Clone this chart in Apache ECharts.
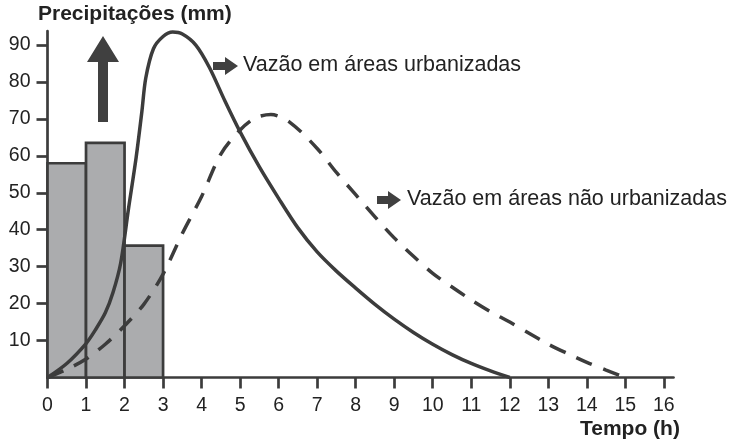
<!DOCTYPE html>
<html>
<head>
<meta charset="utf-8">
<title>Precipitações e vazão</title>
<script src="https://cdn.jsdelivr.net/npm/echarts@6/dist/echarts.min.js"></script>
<style>
  html, body { margin: 0; padding: 0; background: #fff; }
  #main { width: 736px; height: 448px; }
</style>
</head>
<body>
<div id="main"></div>
<script>
// precipitação por hora (barras)
var barStart = [0, 1, 2];
var barEnd = [1, 2, 3];
var barValues = [58, 63.5, 35.7];

// vazão em áreas urbanizadas (linha contínua)
var urbanX = [0, 0.5, 1, 1.25, 1.5, 1.7, 1.9, 2.1, 2.3, 2.45, 2.55, 2.75, 3, 3.25, 3.5, 3.85, 4.2, 4.6, 5, 5.5, 6, 6.5, 7, 7.5, 8, 8.5, 9, 9.5, 10, 10.5, 11, 11.5, 12];
var urbanY = [0, 3.8, 9.2, 13, 17.5, 23, 31, 45.5, 59.5, 72, 81, 89, 92.3, 93.5, 93, 90, 84, 75, 66.5, 57, 48.5, 40.5, 34, 28.8, 24.2, 19.8, 15.8, 12.2, 9, 6.2, 3.8, 1.8, 0];

// vazão em áreas não urbanizadas (linha tracejada)
var ruralX = [0, 0.5, 1, 1.5, 2, 2.5, 3, 3.5, 4, 4.5, 5, 5.4, 5.8, 6.3, 7, 7.5, 8, 8.5, 9, 9.5, 10, 10.5, 11, 11.5, 12, 12.5, 13, 13.5, 14, 14.5, 15];
var ruralY = [0, 2.2, 5, 9, 14, 19.8, 28, 39, 49, 60.5, 67, 70.3, 71.2, 69, 62, 55.5, 49.5, 43.5, 37.8, 32.8, 28.2, 24.5, 21, 17.8, 15, 12, 9, 6.5, 4.1, 2, 0];

// rótulos dos eixos
var xTicks = [0, 1, 2, 3, 4, 5, 6, 7, 8, 9, 10, 11, 12, 13, 14, 15, 16];
var yTicks = [10, 20, 30, 40, 50, 60, 70, 80, 90];

var dark = '#3c3c3c';
var txt = '#222';
var font = '"Liberation Sans", Arial, sans-serif';

function pairs(xs, ys) {
  var out = [];
  for (var i = 0; i < xs.length; i++) out.push([xs[i], ys[i]]);
  return out;
}

var barData = [];
for (var i = 0; i < barValues.length; i++) {
  barData.push([barStart[i], barEnd[i], barValues[i]]);
}

var myChart = echarts.init(document.getElementById('main'));
var option = {
  animation: false,
  backgroundColor: '#fff',
  grid: {
    left: 47.5,
    top: 31,
    width: 626,
    height: 346.5,
    containLabel: false
  },
  xAxis: {
    type: 'value',
    min: 0,
    max: 16.25,
    interval: 1,
    splitLine: { show: false },
    axisLine: { show: true, lineStyle: { color: dark, width: 2.7 } },
    axisTick: {
      show: true,
      inside: false,
      length: 11,
      customValues: xTicks,
      lineStyle: { color: dark, width: 2.7 }
    },
    axisLabel: {
      customValues: xTicks,
      margin: 18,
      color: txt,
      fontFamily: font,
      fontSize: 19.5
    }
  },
  yAxis: {
    type: 'value',
    min: 0,
    max: 93.8,
    interval: 10,
    splitLine: { show: false },
    axisLine: { show: true, lineStyle: { color: dark, width: 2.7 } },
    axisTick: {
      show: true,
      inside: false,
      length: 11,
      customValues: yTicks,
      lineStyle: { color: dark, width: 2.7 }
    },
    axisLabel: {
      customValues: yTicks,
      margin: 17,
      color: txt,
      fontFamily: font,
      fontSize: 19.5
    }
  },
  series: [
    {
      type: 'custom',
      name: 'Precipitações',
      data: barData,
      z: 2,
      renderItem: function (params, api) {
        var p0 = api.coord([api.value(0), api.value(2)]);
        var p1 = api.coord([api.value(1), 0]);
        return {
          type: 'rect',
          shape: { x: p0[0], y: p0[1], width: p1[0] - p0[0], height: p1[1] - p0[1] },
          style: { fill: '#abacae', stroke: dark, lineWidth: 2.7 }
        };
      }
    },
    {
      type: 'line',
      name: 'Vazão em áreas não urbanizadas',
      data: pairs(ruralX, ruralY),
      smooth: 0.3,
      symbol: 'none',
      z: 3,
      lineStyle: { color: dark, width: 3.5, type: [17, 12] }
    },
    {
      type: 'line',
      name: 'Vazão em áreas urbanizadas',
      data: pairs(urbanX, urbanY),
      smooth: 0.3,
      symbol: 'none',
      z: 4,
      lineStyle: { color: dark, width: 3.5 }
    }
  ],
  graphic: [
    {
      type: 'text', left: 38, top: 4,
      style: { text: 'Precipitações (mm)', fill: txt, font: 'bold 21px ' + font }
    },
    {
      type: 'text', left: 580, top: 419,
      style: { text: 'Tempo (h)', fill: txt, font: 'bold 21px ' + font }
    },
    // seta para cima
    {
      type: 'polygon',
      shape: { points: [[103, 36], [119, 62], [108, 62], [108, 122], [98, 122], [98, 62], [87, 62]] },
      style: { fill: '#404040' }
    },
    // seta 1
    {
      type: 'polygon',
      shape: { points: [[213, 62], [225, 62], [225, 57], [238, 66], [225, 75], [225, 70], [213, 70]] },
      style: { fill: '#404040' }
    },
    {
      type: 'text', left: 243, top: 54,
      style: { text: 'Vazão em áreas urbanizadas', fill: txt, font: '21.5px ' + font }
    },
    // seta 2
    {
      type: 'polygon',
      shape: { points: [[377, 196], [388, 196], [388, 191], [401, 200], [388, 209], [388, 204], [377, 204]] },
      style: { fill: '#404040' }
    },
    {
      type: 'text', left: 407, top: 188,
      style: { text: 'Vazão em áreas não urbanizadas', fill: txt, font: '21.5px ' + font }
    }
  ]
};
myChart.setOption(option);
</script>
</body>
</html>
